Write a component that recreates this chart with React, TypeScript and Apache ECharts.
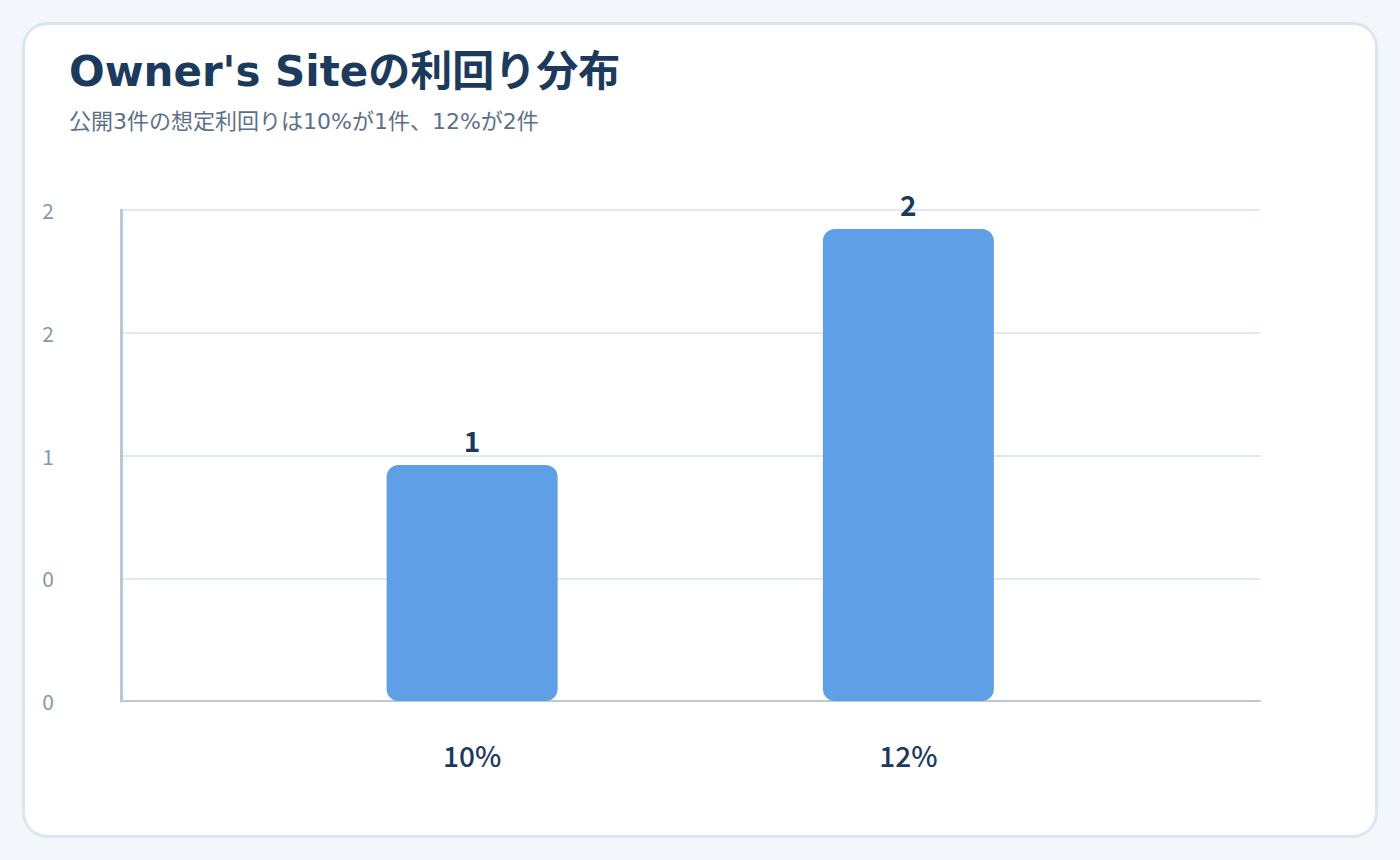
import React, { useEffect, useRef } from "react";
import * as echarts from "echarts";

const categories = ["10%", "12%"];
const counts = [1, 2];
const yMax = 2.08;
const yTickLabels = ["0", "0", "1", "2", "2"];

const titleText = "Owner's Siteの利回り分布";
const subText = "公開3件の想定利回りは10%が1件、12%が2件";

const FONT = "'Noto Sans CJK JP', 'Noto Sans', sans-serif";
const WIDE_FONT = "'DejaVu Sans', 'Noto Sans CJK JP', sans-serif";

const App: React.FC = () => {
  const chartRef = useRef<HTMLDivElement>(null);

  useEffect(() => {
    const chart = echarts.init(chartRef.current!, null, { renderer: "svg" });
    const options = {
      animation: false,
      backgroundColor: "#f3f7fc",
      textStyle: { fontFamily: FONT },
      graphic: [
        {
          type: "rect",
          z: -10,
          shape: { x: 23.5, y: 23.5, width: 1353, height: 813, r: 24 },
          style: { fill: "#ffffff", stroke: "#dbe5ef", lineWidth: 3 },
        },
      ],
      title: {
        text: titleText,
        subtext: subText,
        left: 64,
        top: 45,
        itemGap: 18,
        textStyle: {
          fontSize: 42,
          fontWeight: "bold",
          color: "#1b3a5c",
          fontFamily: WIDE_FONT,
        },
        subtextStyle: {
          fontSize: 22,
          color: "#5d7088",
          fontFamily: WIDE_FONT,
        },
      },
      grid: [
        { left: 121, right: 140, top: 210, bottom: 159 },
        { left: 254, right: 273.5, top: 210, bottom: 159 },
      ],
      xAxis: [
        {
          gridIndex: 0,
          type: "value",
          min: 0,
          max: 1,
          axisLine: { show: true, lineStyle: { color: "#b9c8d8", width: 2 } },
          axisTick: { show: false },
          axisLabel: { show: false },
          splitLine: { show: false },
        },
        {
          gridIndex: 1,
          type: "category",
          data: categories,
          axisLine: { show: false },
          axisTick: { show: false },
          axisLabel: {
            margin: 40,
            fontSize: 28,
            fontWeight: 500,
            color: "#1b3a5c",
            fontFamily: FONT,
          },
        },
      ],
      yAxis: [
        {
          gridIndex: 0,
          type: "value",
          min: 0,
          max: yMax,
          interval: yMax / 4,
          axisLine: { show: true, lineStyle: { color: "#b9c8d8", width: 3 } },
          axisTick: { show: false },
          axisLabel: {
            margin: 67,
            fontSize: 21,
            color: "#8797ab",
            fontFamily: FONT,
            formatter: (_v: number, i: number) => yTickLabels[i] ?? "",
          },
          splitLine: { show: true, lineStyle: { color: "#e0e9f2", width: 2 } },
        },
        {
          gridIndex: 1,
          type: "value",
          min: 0,
          max: yMax,
          show: false,
          splitLine: { show: false },
        },
      ],
      series: [
        {
          type: "bar",
          xAxisIndex: 1,
          yAxisIndex: 1,
          data: counts,
          barWidth: 171,
          itemStyle: { color: "#5e9fe6", borderRadius: 12 },
          label: {
            show: true,
            position: "top",
            distance: 11,
            fontSize: 28,
            fontWeight: 600,
            color: "#1b3a5c",
            fontFamily: FONT,
          },
        },
      ],
    };
    chart.setOption(options);

    return () => {
      chart.dispose();
    };
  }, []);

  return (
    <div
      ref={chartRef}
      style={{ position: "fixed", left: 0, top: 0, width: 1400, height: 860 }}
    ></div>
  );
};

export default App;
